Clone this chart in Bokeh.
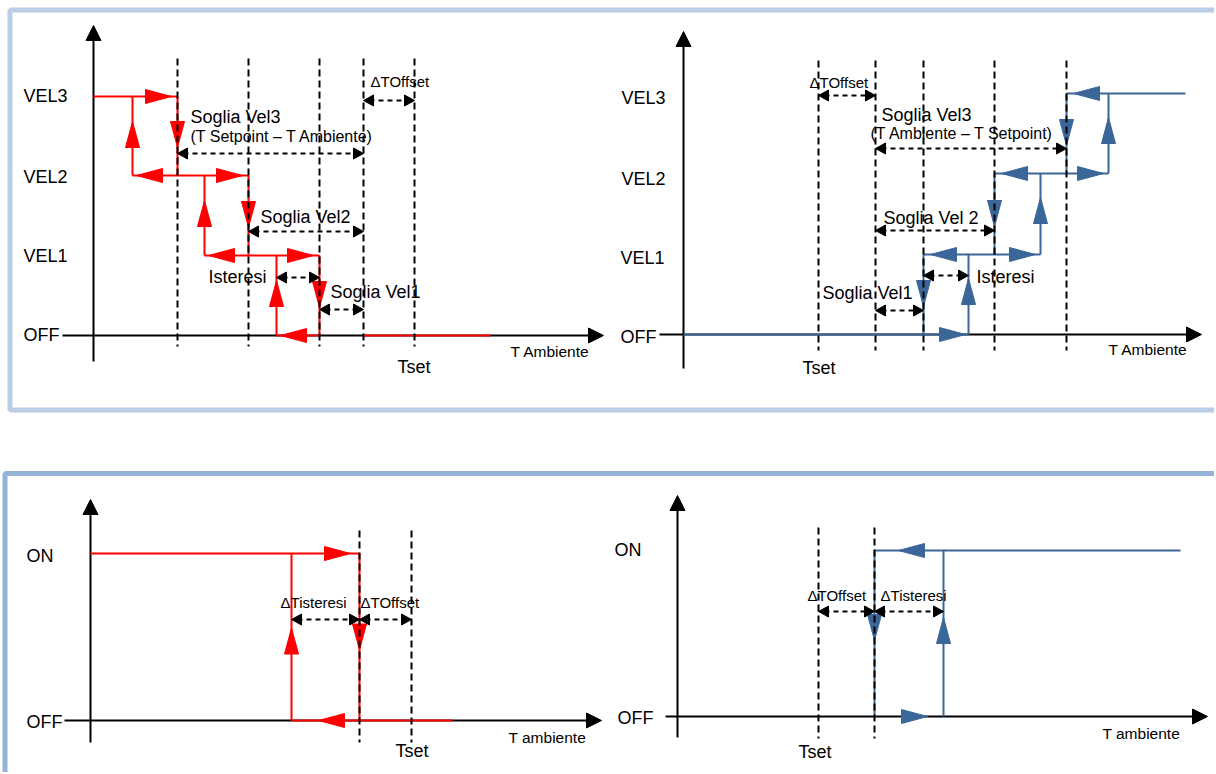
from bokeh.plotting import figure
from bokeh.models import Range1d
from bokeh.core.properties import value
from bokeh.embed import file_html
from bokeh.resources import INLINE

RED = "#ff0000"
BLUE = "#3a6699"
BLACK = "#000000"
FONT = value("Liberation Sans")

# ---------------- data (schematic positions on the page) ----------------
# Top-left panel: cooling, fan speed vs T ambiente
tl_level_names = ["OFF", "VEL1", "VEL2", "VEL3"]
tl_level_y = [335, 255, 175, 96]
tl_drop_x = [319, 248, 177]      # speed steps down (T rising)
tl_rise_x = [276, 204, 132]      # speed steps up (T falling)
tl_dashed_x = [177, 248, 319, 363, 414]
tl_axis = dict(x=93, y=335, x_start=62, x_tip=603, y_bottom=361, y_tip=25)
tl_off_tail = [363, 490]

# Top-right panel: heating, fan speed vs T ambiente
tr_level_names = ["OFF", "VEL1", "VEL2", "VEL3"]
tr_level_y = [334, 254, 173, 93]
tr_rise_x = [968, 1040, 1108]    # speed steps up (T rising)
tr_drop_x = [923, 994, 1066]     # speed steps down (T falling)
tr_dashed_x = [818, 875, 923, 994, 1066]
tr_axis = dict(x=683, y=334, x_start=659, x_tip=1201, y_bottom=368, y_tip=31)
tr_top_end = 1185

# Bottom-left panel: ON/OFF cooling
bl_level_names = ["OFF", "ON"]
bl_level_y = [720, 553]
bl_drop_x = 359
bl_rise_x = 291
bl_dashed_x = [359, 411]
bl_axis = dict(x=90, y=720, x_start=64, x_tip=601, y_bottom=742, y_tip=499)
bl_off_end = 452

# Bottom-right panel: ON/OFF heating
br_level_names = ["OFF", "ON"]
br_level_y = [716, 550]
br_drop_x = 874
br_rise_x = 943
br_dashed_x = [818, 874]
br_axis = dict(x=677, y=716, x_start=665, x_tip=1207, y_bottom=737, y_tip=495)
br_on_end = 1180

# ---------------- figure ----------------
W, H = 1214, 772
p = figure(width=W, height=H, x_range=Range1d(0, W), y_range=Range1d(H, 0),
           output_backend="svg", toolbar_location=None, min_border=0,
           x_axis_location=None, y_axis_location=None)
p.grid.visible = False
p.outline_line_color = None
p.background_fill_color = "white"

# frames
p.quad(left=[9.5], right=[1240], top=[9.5], bottom=[409.5], fill_color=None,
       line_color="#b9cde5", line_width=5)
p.quad(left=[4.5], right=[1240], top=[473], bottom=[800], fill_color=None,
       line_color="#95b3d7", line_width=5)


def tri(tx, ty, d, L, Wd):
    dx, dy = {"r": (1, 0), "l": (-1, 0), "u": (0, -1), "d": (0, 1)}[d]
    bx, by = tx - L * dx, ty - L * dy
    px, py = -dy, dx
    return [tx, bx + Wd * px, bx - Wd * px], [ty, by + Wd * py, by - Wd * py]


def arrows(specs, color, L, Wd):
    xs, ys = [], []
    for tx, ty, d in specs:
        a, b = tri(tx, ty, d, L, Wd)
        xs.append(a)
        ys.append(b)
    p.patches(xs, ys, fill_color=color, line_color=color, line_width=1)


def segs(lst, color, width, dash="solid"):
    p.segment(x0=[s[0] for s in lst], y0=[s[1] for s in lst],
              x1=[s[2] for s in lst], y1=[s[3] for s in lst],
              line_color=color, line_width=width, line_dash=dash)


def axes(ax):
    segs([(ax["x_start"], ax["y"], ax["x_tip"] - 12, ax["y"]),
          (ax["x"], ax["y_bottom"], ax["x"], ax["y_tip"] + 12)], BLACK, 2)
    arrows([(ax["x_tip"], ax["y"], "r"), (ax["x"], ax["y_tip"], "u")], BLACK, 15, 7.5)


def dashed(xs, top, bottom):
    segs([(x, top, x, bottom) for x in xs], BLACK, 2, "7 4")


def dims(lst):
    segs([(a + 6, y, b - 6, y) for a, b, y in lst], BLACK, 2, "5 4")
    specs = []
    for a, b, y in lst:
        specs += [(a, y, "l"), (b, y, "r")]
    arrows(specs, BLACK, 10, 5.5)


def texts(items, size, align="left"):
    p.text(x=[t[0] for t in items], y=[t[1] for t in items], text=[t[2] for t in items],
           text_font=FONT, text_font_size=size, text_align=align,
           text_baseline="middle", text_color=BLACK)


AL, AW = 26, 7  # coloured arrowhead size

# ---------- axes ----------
for ax in (tl_axis, tr_axis, bl_axis, br_axis):
    axes(ax)

# ---------- top-left steps (red) ----------
y = tl_level_y
h, v, a = [], [], []
for k in range(0, 4):
    start = tl_axis["x"] if k == 3 else tl_rise_x[k]
    end = tl_drop_x[k - 1] if k > 0 else tl_drop_x[0]
    h.append((start, y[k], end, y[k]))
    if k > 0:
        a.append((end - 6, y[k], "r"))
    if k < 3:
        a.append((start + 4, y[k], "l"))
for k in range(1, 4):
    v.append((tl_drop_x[k - 1], y[k], tl_drop_x[k - 1], y[k - 1]))
    v.append((tl_rise_x[k - 1], y[k - 1], tl_rise_x[k - 1], y[k]))
    a.append((tl_drop_x[k - 1], y[k - 1] - 28, "d"))
    a.append((tl_rise_x[k - 1], y[k] + 25, "u"))
h.append((tl_off_tail[0], y[0], tl_off_tail[1], y[0]))
segs(h + v, RED, 2)
arrows(a, RED, AL, AW)

# ---------- top-right steps (blue) ----------
y = tr_level_y
h, v, a = [], [], []
for k in range(1, 4):
    start = tr_drop_x[k - 1]
    end = tr_top_end if k == 3 else tr_rise_x[k]
    h.append((start, y[k], end, y[k]))
    v.append((tr_drop_x[k - 1], y[k], tr_drop_x[k - 1], y[k - 1]))
    v.append((tr_rise_x[k - 1], y[k - 1], tr_rise_x[k - 1], y[k]))
    a.append((start + 7, y[k], "l"))
    if k != 3:
        a.append((end - 5, y[k], "r"))
    a.append((tr_drop_x[k - 1], y[k - 1] - 28, "d"))
    a.append((tr_rise_x[k - 1], y[k] + 24, "u"))
h.append((tr_axis["x"], y[0], tr_rise_x[0], y[0]))
a.append((tr_rise_x[0] - 3, y[0], "r"))
segs(h + v, BLUE, 2)
arrows(a, BLUE, AL, AW)

# ---------- bottom-left (red) ----------
y = bl_level_y
mid = (y[0] + y[1]) / 2
segs([(bl_axis["x"], y[1], bl_drop_x, y[1]),
      (bl_drop_x, y[1], bl_drop_x, y[0]),
      (bl_rise_x, y[0], bl_rise_x, y[1]),
      (bl_rise_x, y[0], bl_off_end, y[0])], RED, 2)
arrows([(bl_drop_x - 9, y[1], "r"), (bl_drop_x, mid + 13, "d"),
        (bl_rise_x, mid - 9, "u"), (bl_rise_x + 27, y[0], "l")], RED, AL, AW)

# ---------- bottom-right (blue) ----------
y = br_level_y
mid = (y[0] + y[1]) / 2
segs([(br_drop_x, y[1], br_on_end, y[1]),
      (br_drop_x, y[1], br_drop_x, y[0]),
      (br_rise_x, y[0], br_rise_x, y[1])], BLUE, 2)
arrows([(br_drop_x + 24, y[1], "l"), (br_drop_x, mid + 7, "d"),
        (br_rise_x, mid - 16, "u"), (br_rise_x - 16, y[0], "r")], BLUE, AL, AW)

# ---------- dashed threshold lines ----------
dashed(tl_dashed_x, 58, 346)
dashed(tr_dashed_x, 60, 350)
dashed(bl_dashed_x, 530, 742)
dashed(br_dashed_x, 527, 738)

# ---------- dimension arrows ----------
dims([(tl_dashed_x[3], tl_dashed_x[4], 100),
      (tl_drop_x[2], tl_dashed_x[3], 153),
      (tl_drop_x[1], tl_dashed_x[3], 231),
      (tl_rise_x[0], tl_drop_x[0], 277),
      (tl_drop_x[0], tl_dashed_x[3], 309)])
dims([(tr_dashed_x[0], tr_dashed_x[1], 95),
      (tr_dashed_x[1], tr_drop_x[2], 148),
      (tr_dashed_x[1], tr_drop_x[1], 230),
      (tr_drop_x[0], tr_rise_x[0], 275),
      (tr_dashed_x[1], tr_drop_x[0], 310)])
dims([(bl_rise_x, bl_drop_x, 619), (bl_drop_x, bl_dashed_x[1], 619)])
dims([(br_dashed_x[0], br_drop_x, 611), (br_drop_x, br_rise_x, 611)])

# ---------- texts ----------
# level labels (right aligned)
texts([(67, 95, "VEL3"), (67, 176, "VEL2"), (67, 255, "VEL1"), (59, 334, "OFF"),
       (665, 97, "VEL3"), (665, 178, "VEL2"), (664, 257, "VEL1"), (656, 336, "OFF"),
       (62, 721, "OFF"), (653, 717, "OFF")], "18px", "right")
texts([(26, 555, "ON"), (614, 549, "ON")], "18px")
# annotations
texts([(190, 116, "Soglia Vel3"), (260, 216, "Soglia Vel2"), (208, 276, "Isteresi"),
       (330, 291, "Soglia Vel1"), (397, 366, "Tset"),
       (881, 114, "Soglia Vel3"), (883, 217, "Soglia Vel 2"), (976, 276, "Isteresi"),
       (822, 292, "Soglia Vel1"), (802, 367, "Tset"),
       (395, 750, "Tset"), (798, 751, "Tset")], "18px")
texts([(190, 136, "(T Setpoint \u2013 T Ambiente)"),
       (870, 133, "(T Ambiente \u2013 T Setpoint)")], "16px")
texts([(510, 351, "T Ambiente"), (1108, 349, "T Ambiente"),
       (508, 737, "T ambiente"), (1102, 733, "T ambiente")], "15.5px")
texts([(370, 81, "\u0394TOffset"), (809, 82, "\u0394TOffset"),
       (280, 602, "\u0394Tisteresi"), (360, 602, "\u0394TOffset"),
       (807, 595, "\u0394TOffset"), (880, 595, "\u0394Tisteresi")], "15px")

open("out.html", "w").write(file_html(p, INLINE))
